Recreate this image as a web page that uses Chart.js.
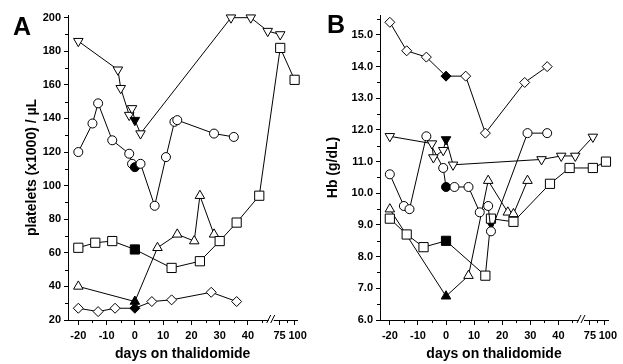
<!DOCTYPE html>
<html>
<head>
<meta charset="utf-8">
<script src="https://cdn.jsdelivr.net/npm/chart.js@4"></script>
<style>
  body { margin: 0; background: #fff; width: 623px; height: 364px; position: relative; overflow: hidden;
         font-family: 'Liberation Sans', Arial, sans-serif; }
  .panel { position: absolute; top: 0; height: 364px; }
  #wa { left: 0; width: 311px; }
  #wb { left: 311px; width: 312px; }
  .lbl { position: absolute; font-weight: bold; font-size: 25px; line-height: 25px; color: #000; }
</style>
</head>
<body>
<div class="panel" id="wa"><canvas id="chartA" width="311" height="364"></canvas></div>
<div class="panel" id="wb"><canvas id="chartB" width="312" height="364"></canvas></div>
<div class="lbl" style="left:13px;top:14px">A</div>
<div class="lbl" style="left:327px;top:12px">B</div>
<script>
  // panel A - platelets
  var aTriDownDays = [-20, -6, -5, -2, -1, 0, 2, 34, 41, 47, 76];
  var aTriDownVals = [186, 169, 158, 142, 146, 139, 131, 200, 200, 192, 190];
  var aCircDays = [-20, -15, -13, -8, -2, -1, 0, 2, 7, 11, 14, 15, 28, 35];
  var aCircVals = [120, 137, 149, 127, 119, 113, 111, 113, 88, 117, 138, 139, 131, 129];
  var aSqDays = [-20, -14, -8, 0, 13, 23, 30, 36, 44, 76, 100];
  var aSqVals = [63, 66, 67, 62, 51, 55, 67, 78, 94, 182, 163];
  var aTriUpDays = [-20, 0, 8, 15, 21, 23, 28];
  var aTriUpVals = [40, 31, 63, 71, 67, 94, 71];
  var aDiaDays = [-20, -13, -7, 0, 6, 13, 27, 36];
  var aDiaVals = [27, 25, 27, 27, 31, 32, 36.5, 31];

  // panel B - Hb
  var bDiaDays = [-20, -14, -7, 0, 7, 14, 28, 36];
  var bDiaVals = [15.4, 14.5, 14.3, 13.7, 13.7, 11.9, 13.5, 14.0];
  var bTriDownDays = [-20, -5, -4.5, -1, 0, 2.5, 34, 41, 46, 80];
  var bTriDownVals = [11.8, 11.57, 11.13, 11.36, 11.7, 10.9, 11.07, 11.18, 11.18, 11.78];
  var bCircDays = [-20, -15, -13, -7, -1, 0, 3, 8, 12, 15, 16, 29, 36];
  var bCircVals = [10.6, 9.6, 9.5, 11.8, 10.8, 10.2, 10.2, 10.2, 9.4, 9.6, 8.8, 11.9, 11.9];
  var bSqDays = [-20, -14, -8, 0, 14, 16, 24, 37, 44, 80, 102];
  var bSqVals = [9.2, 8.7, 8.3, 8.5, 7.4, 9.2, 9.1, 10.3, 10.8, 10.8, 11.0];
  var bTriUpDays = [-20, 0, 8, 15, 22, 24, 29];
  var bTriUpVals = [9.5, 6.75, 7.4, 10.4, 9.4, 9.35, 10.4];
  var bMarkDays = [16];
  var bMarkVals = [9.0];

  // axis ticks
  var xTickDays = [-20, -10, 0, 10, 20, 30, 40, 75, 100];
  var xTickLabels = ['-20', '-10', '0', '10', '20', '30', '40', '75', '  100'];
  var xMinorDays = [-15, -5, 5, 15, 25, 35, 45, 87.5];
  var aYTicks = [20, 40, 60, 80, 100, 120, 140, 160, 180, 200];
  var aYMinor = [30, 50, 70, 90, 110, 130, 150, 170, 190];
  var bYTicks = [6, 7, 8, 9, 10, 11, 12, 13, 14, 15];
  var bYMinor = [6.5, 7.5, 8.5, 9.5, 10.5, 11.5, 12.5, 13.5, 14.5, 15.5];

  var breakU = 48.4;
  // broken axis: days past the break are squeezed
  function toU(d) { return d <= 50 ? d : 51.2 + (d - 75) * 0.212; }
  function pts(days, vals) { return days.map(function (d, i) { return { x: toU(d), y: vals[i] }; }); }

  function series(days, vals, style, radius, rot, allFilled) {
    return {
      data: pts(days, vals),
      borderColor: '#000', borderWidth: 1, tension: 0, clip: false,
      showLine: !allFilled,
      pointStyle: style, pointRadius: radius, pointRotation: rot || 0,
      pointBorderColor: '#000', pointBorderWidth: 1,
      pointBackgroundColor: function (ctx) {
        if (allFilled) return '#000';
        return (ctx.raw && ctx.raw.x === 0) ? '#000' : '#fff';
      }
    };
  }

  Chart.defaults.font.family = "'Liberation Sans', Arial, sans-serif";
  Chart.defaults.font.weight = 'bold';
  Chart.defaults.color = '#000';

  function extras(yMinor) {
    return {
      id: 'axisExtras',
      afterDraw: function (chart) {
        var c = chart.ctx, ca = chart.chartArea, xs = chart.scales.x, ys = chart.scales.y;
        c.save();
        c.strokeStyle = '#000';
        c.lineWidth = 1;
        c.beginPath();
        xMinorDays.forEach(function (d) {
          var px = Math.round(xs.getPixelForValue(toU(d))) + 0.5;
          c.moveTo(px, ca.bottom); c.lineTo(px, ca.bottom + 3);
        });
        yMinor.forEach(function (v) {
          var py = Math.round(ys.getPixelForValue(v)) + 0.5;
          c.moveTo(ca.left, py); c.lineTo(ca.left - 3, py);
        });
        c.stroke();
        // axis break
        var bx = xs.getPixelForValue(breakU), by = ca.bottom;
        c.fillStyle = '#fff';
        c.fillRect(bx - 3, by - 2, 5, 4);
        c.beginPath();
        c.moveTo(bx - 5, by + 3); c.lineTo(bx - 1, by - 5);
        c.moveTo(bx - 1, by + 3); c.lineTo(bx + 3, by - 5);
        c.stroke();
        c.restore();
      }
    };
  }

  function makeChart(id, datasets, o) {
    return new Chart(document.getElementById(id).getContext('2d'), {
      type: 'line',
      data: { datasets: datasets },
      plugins: [extras(o.yMinor)],
      options: {
        responsive: false,
        animation: false,
        events: [],
        layout: { padding: { left: o.padLeft, top: 15, right: o.padRight, bottom: 0 } },
        plugins: { legend: { display: false }, tooltip: { enabled: false } },
        scales: {
          x: {
            type: 'linear', min: o.xmin, max: o.xmax,
            afterBuildTicks: function (s) { s.ticks = xTickDays.map(function (d) { return { value: toU(d) }; }); },
            afterFit: function (s) { s.height = 44; },
            ticks: {
              autoSkip: false, maxRotation: 0, padding: 4, font: { size: 11 },
              callback: function (v) {
                for (var i = 0; i < xTickDays.length; i++) {
                  if (Math.abs(toU(xTickDays[i]) - v) < 0.01) return xTickLabels[i];
                }
                return '';
              }
            },
            grid: { drawOnChartArea: false, color: '#000', tickLength: 5 },
            border: { color: '#000', width: 1 },
            title: { display: true, text: 'days on thalidomide', font: { size: 14 }, padding: { top: 0, bottom: 1 } }
          },
          y: {
            type: 'linear', min: o.ymin, max: o.ymax,
            afterBuildTicks: function (s) { s.ticks = o.yTicks.map(function (v) { return { value: v }; }); },
            afterFit: function (s) { s.width = o.yWidth; },
            ticks: { autoSkip: false, padding: 3, font: { size: 11 }, callback: o.yFmt },
            grid: { drawOnChartArea: false, color: '#000', tickLength: 4 },
            border: { color: '#000', width: 1 },
            title: { display: true, text: o.yTitle, font: { size: 14 }, padding: { top: o.titlePad, bottom: 0 } }
          }
        }
      }
    });
  }

  makeChart('chartA', [
    series(aTriDownDays, aTriDownVals, 'triangle', 5.5, 180),
    series(aCircDays, aCircVals, 'circle', 4.5),
    series(aSqDays, aSqVals, 'rect', 6.5),
    series(aTriUpDays, aTriUpVals, 'triangle', 5.5),
    series(aDiaDays, aDiaVals, 'rectRot', 5)
  ], {
    xmin: -23.65, xmax: 57.5, ymin: 20, ymax: 201.6,
    yTicks: aYTicks, yMinor: aYMinor, yFmt: function (v) { return String(v); },
    yTitle: 'platelets (x1000) / µL', padLeft: 18, yWidth: 50, titlePad: 6, padRight: 13
  });

  makeChart('chartB', [
    series(bDiaDays, bDiaVals, 'rectRot', 5),
    series(bTriDownDays, bTriDownVals, 'triangle', 5.5, 180),
    series(bCircDays, bCircVals, 'circle', 4.5),
    series(bSqDays, bSqVals, 'rect', 6.5),
    series(bTriUpDays, bTriUpVals, 'triangle', 5.5),
    series(bMarkDays, bMarkVals, 'triangle', 4, 180, true)
  ], {
    xmin: -23.5, xmax: 57.65, ymin: 6, ymax: 15.63,
    yTicks: bYTicks, yMinor: bYMinor, yFmt: function (v) { return v.toFixed(1); },
    yTitle: 'Hb (g/dL)', padLeft: 8, yWidth: 61, titlePad: 6, padRight: 15
  });
</script>
</body>
</html>
